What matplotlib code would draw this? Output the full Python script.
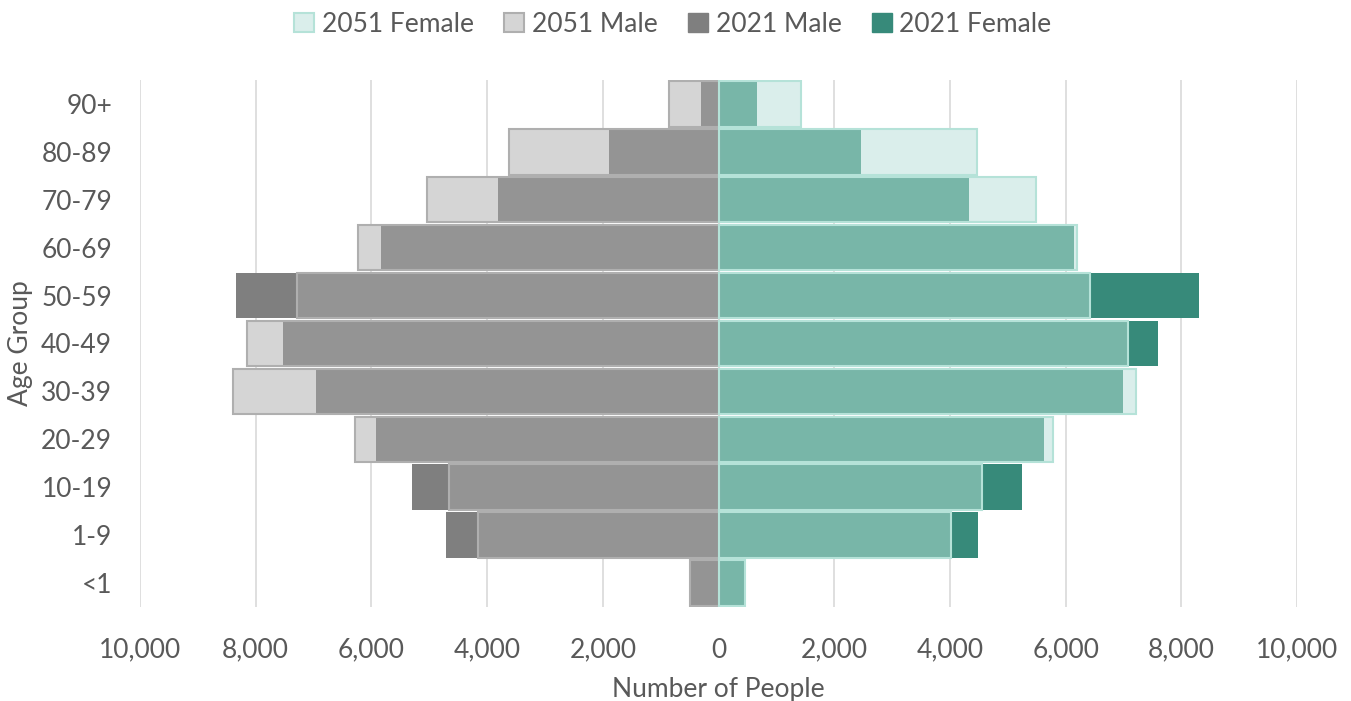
import numpy as np
import matplotlib
matplotlib.use('Agg')
import matplotlib.pyplot as plt
from matplotlib.patches import Patch

plt.rcParams['font.family'] = ['Lato', 'DejaVu Sans']

# population by age group, youngest first
age_groups = ['<1', '1-9', '10-19', '20-29', '30-39', '40-49', '50-59', '60-69', '70-79', '80-89', '90+']
male_2021 = [480, 4710, 5290, 5920, 6950, 7530, 8340, 5830, 3810, 1890, 300]
male_2051 = [485, 4150, 4650, 6280, 8390, 8150, 7280, 6230, 5040, 3630, 850]
female_2021 = [460, 4480, 5240, 5620, 6990, 7600, 8300, 6140, 4330, 2470, 670]
female_2051 = [465, 4010, 4550, 5780, 7220, 7080, 6420, 6190, 5480, 4460, 1430]

txt = '#595959'
grid_c = '#d9d9d9'
fs = 19

m21 = -np.array(male_2021)
m51 = -np.array(male_2051)
f21 = np.array(female_2021)
f51 = np.array(female_2051)
y = np.arange(len(age_groups))
h = 0.95

fig = plt.figure(figsize=(13.51, 7.01), dpi=100)
ax = fig.add_axes([0.1036, 0.134, 0.8565, 0.752])

# 2021 bars underneath, 2051 bars, then the shared part in a mid tone
ax.barh(y, m21, height=h, color='#7f7f7f', zorder=2)
ax.barh(y, m51, height=h, color='#d5d5d5', zorder=2)
ax.barh(y, np.maximum(m21, m51), height=h, color='#949494', zorder=3)
ax.barh(y, m51, height=h, fill=False, edgecolor='#afafaf', linewidth=1.5, zorder=4)

ax.barh(y, f21, height=h, color='#378a7a', zorder=2)
ax.barh(y, f51, height=h, color='#daeeeb', zorder=2)
ax.barh(y, np.minimum(f21, f51), height=h, color='#78b6a8', zorder=3)
ax.barh(y, f51, height=h, fill=False, edgecolor='#b5e2d8', linewidth=1.5, zorder=4)

ax.set_xlim(-10000, 10000)
ax.set_ylim(-0.5, 10.5)
xt = np.arange(-10000, 10001, 2000)
ax.set_xticks(xt)
ax.set_xticklabels(['{:,}'.format(abs(v)) for v in xt])
ax.set_yticks(y)
ax.set_yticklabels(age_groups)
ax.grid(axis='x', color=grid_c, linewidth=1.2, zorder=0)
ax.set_axisbelow(True)
for s in ax.spines.values():
    s.set_visible(False)
ax.tick_params(axis='both', length=0, colors=txt, labelsize=fs)
ax.tick_params(axis='x', pad=22)
ax.tick_params(axis='y', pad=20)
ax.set_xlabel('Number of People', color=txt, fontsize=fs, labelpad=10)
ax.set_ylabel('Age Group', color=txt, fontsize=fs, labelpad=6)

handles = [
    Patch(facecolor='#daeeeb', edgecolor='#b5e2d8', linewidth=1.5, label='2051 Female'),
    Patch(facecolor='#d5d5d5', edgecolor='#afafaf', linewidth=1.5, label='2051 Male'),
    Patch(facecolor='#7f7f7f', edgecolor='#7f7f7f', label='2021 Male'),
    Patch(facecolor='#378a7a', edgecolor='#378a7a', label='2021 Female'),
]
leg = fig.legend(handles=handles, loc='center', bbox_to_anchor=(0.498, 0.965), ncol=4,
                 frameon=False, fontsize=fs, handlelength=0.75, handleheight=0.75,
                 handletextpad=0.3, columnspacing=1.15)
for t in leg.get_texts():
    t.set_color(txt)

fig.savefig('out.png', dpi=100)
